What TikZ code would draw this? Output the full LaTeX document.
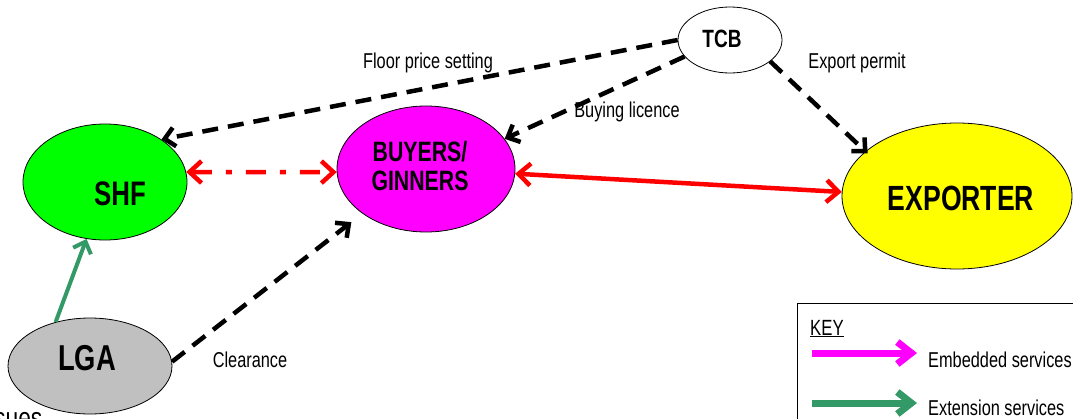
\documentclass[tikz,border=0pt]{standalone}
\usepackage{fontspec}
\setmainfont{Liberation Sans}[FakeStretch=0.76]
\usetikzlibrary{shapes.geometric,arrows.meta}
\definecolor{farmgreen}{HTML}{00FF00}
\definecolor{buyermagenta}{HTML}{FF00FF}
\definecolor{exportyellow}{HTML}{FFFF00}
\definecolor{lgagray}{HTML}{C0C0C0}
\definecolor{extgreen}{HTML}{339966}

\begin{document}
\begin{tikzpicture}[x=1pt,y=-1pt,
    actor/.style={ellipse,draw,line width=0.8pt,inner sep=0pt},
    actortext/.style={font=\bfseries\fontsize{#1}{#1}\selectfont,inner sep=0pt,anchor=base},
    flowlabel/.style={font=\fontsize{21.5}{23}\selectfont,inner sep=0pt,anchor=base},
    permit/.style={line width=4.5pt,dash pattern=on 16pt off 10pt,
        -{Straight Barb[length=10pt,width=19pt]}},
    trade/.style={red,line width=4.5pt,
        {Straight Barb[length=12pt,width=22pt]}-{Straight Barb[length=12pt,width=22pt]}},
    keyarrow/.style={line width=7pt,-{Straight Barb[length=14pt,width=22pt]}}]
    \useasboundingbox (0,0) rectangle (1073,418);

    % Actors
    \node[actor,fill=farmgreen,minimum width=164pt,minimum height=116pt] (shf) at (105,182) {};
    \node[actor,fill=buyermagenta,minimum width=178pt,minimum height=126pt] (buy) at (426,169) {};
    \node[actor,fill=exportyellow,minimum width=230pt,minimum height=146pt] (exp) at (957,196) {};
    \node[actor,fill=white,minimum width=104pt,minimum height=66pt] (tcb) at (730,40) {};
    \node[actor,fill=lgagray,minimum width=164pt,minimum height=96pt] (lga) at (90,366) {};

    \node[actortext=34] (shf-text) at (120,205) {SHF};
    \node[actortext=28,anchor=center,align=center] (buy-text) at (420,166) {BUYERS/\\[1pt]GINNERS};
    \node[actortext=35] (exp-text) at (961,210) {EXPORTER};
    \node[actortext=25] (tcb-text) at (722,47) {TCB};
    \node[actortext=36] (lga-text) at (87,370) {LGA};

    % TCB services
    \draw[permit] (tcb.180) -- (shf.37);
    \draw[permit] (tcb.200) -- (buy.21);
    \draw[permit,shorten >=-3pt] (tcb.-28) -- (exp.154);
    \node[flowlabel] (floor) at (428,68) {Floor price setting};
    \node[flowlabel] (licence) at (627,117) {Buying licence};
    \node[flowlabel] (permit-label) at (857,68) {Export permit};

    % Trade links
    \draw[trade,dash pattern=on 20pt off 14pt on 6pt off 14pt] (shf.7) -- (buy.182);
    \draw[trade] (buy.-3) -- (exp.178);

    % LGA services
    \draw[extgreen,line width=4pt,-{Straight Barb[length=10pt,width=19pt]}] (lga.128) -- (shf.-108);
    \draw[permit,shorten >=14pt] (lga.3) -- (buy.-145);
    \node[flowlabel] (clear) at (250,367) {Clearance};

    % Key
    \draw[line width=1pt] (797,303) rectangle (1100,460);
    \node[font=\fontsize{22}{24}\selectfont,inner sep=0pt,anchor=base west] (key) at (810,335) {\underline{KEY}};
    \coordinate (emb-a) at (812,353);
    \coordinate (emb-b) at (917,353);
    \coordinate (ext-a) at (812,403);
    \coordinate (ext-b) at (917,403);
    \draw[keyarrow,buyermagenta] (emb-a) -- (emb-b);
    \draw[keyarrow,extgreen] (ext-a) -- (ext-b);
    \node[flowlabel,anchor=base west] (emb) at (928,367) {Embedded services};
    \node[flowlabel,anchor=base west] (ext) at (928,415) {Extension services};

    \node[font=\fontsize{30}{32}\selectfont,inner sep=0pt,anchor=base west] (issues) at (-6,428) {sues};
\end{tikzpicture}
\end{document}
